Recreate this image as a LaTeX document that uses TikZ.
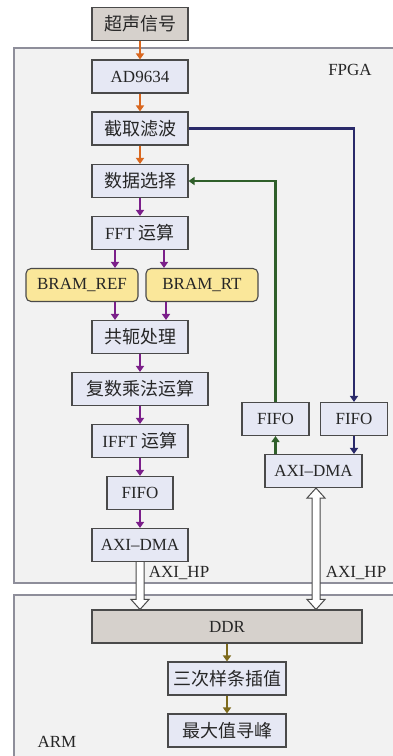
\documentclass[tikz,border=0pt]{standalone}
\usepackage{fontspec}
\setmainfont{Liberation Serif}
\newfontfamily\cjk{Noto Sans CJK SC}
\usetikzlibrary{arrows.meta,calc}
\definecolor{boxc}{HTML}{E6E8F4}
\definecolor{bordc}{HTML}{4A4A4A}
\definecolor{greyc}{HTML}{D6D1CC}
\definecolor{yelc}{HTML}{FAE79A}
\definecolor{framec}{HTML}{F2F2F2}
\definecolor{frameb}{HTML}{8E8E9A}
\definecolor{orac}{HTML}{D9671F}
\definecolor{purc}{HTML}{7B1F8A}
\definecolor{navc}{HTML}{2A2A6A}
\definecolor{grnc}{HTML}{2F5F2A}
\definecolor{olvc}{HTML}{7D6A1C}
\newcommand{\zh}[1]{{\cjk\fontsize{18}{20}\selectfont #1}}
\tikzset{
  box/.style={draw=bordc, fill=boxc, line width=1.1pt, minimum height=33pt, minimum width=96pt, inner sep=0pt, text=black!85, font=\fontsize{17}{20}\selectfont},
  graybox/.style={box, fill=greyc},
  ybox/.style={box, fill=yelc, rounded corners=5pt, minimum width=112pt},
  frame/.style={draw=frameb, fill=framec, line width=1.1pt},
  flow/.style={line width=2.2pt, -{Triangle[length=6pt,width=8pt]}},
  oarr/.style={flow, draw=orac},
  parr/.style={flow, draw=purc},
  narr/.style={flow, draw=navc},
  garr/.style={flow, draw=grnc},
  yarr/.style={flow, draw=olvc},
  open/.style={draw=bordc, fill=white, line width=1pt, line join=miter},
  lbl/.style={inner sep=0pt, text=black!85, font=\fontsize{17}{20}\selectfont}
}
\begin{document}
\begin{tikzpicture}[x=1pt,y=-1pt]
\useasboundingbox (0,0) rectangle (393,756);
\clip (0,0) rectangle (393,756);
\fill[white] (0,0) rectangle (393,756);
\draw[frame] (14,48) rectangle (402,583);
\draw[frame] (14,595) rectangle (402,770);
\node[lbl] (fpga) at (350,70) {FPGA};
\node[lbl] (arm) at (57,742) {ARM};

\node[graybox] (sig) at (140,24) {\zh{超声信号}};
\node[box] (ad) at (140,76.5) {AD9634};
\node[box] (jq) at (140,128.5) {\zh{截取滤波}};
\node[box] (sj) at (140,181) {\zh{数据选择}};
\node[box] (fft) at (140,233) {FFT \zh{运算}};
\node[ybox] (bref) at (82,285) {BRAM\_REF};
\node[ybox] (brt) at (202,285) {BRAM\_RT};
\node[box] (gon) at (140,337) {\zh{共轭处理}};
\node[box, minimum width=136pt] (fu) at (140,389) {\zh{复数乘法运算}};
\node[box] (ifft) at (140,441) {IFFT \zh{运算}};
\node[box, minimum width=66pt] (fifoL) at (140,493) {FIFO};
\node[box] (dmaL) at (140,545) {AXI--DMA};
\node[box, minimum width=67pt] (fifoM) at (275.5,419) {FIFO};
\node[box, minimum width=67pt] (fifoR) at (354,419) {FIFO};
\node[box, minimum width=97pt] (dmaR) at (313.5,471) {AXI--DMA};
\node[graybox, minimum width=270pt] (ddr) at (227,626.5) {DDR};
\node[box, minimum width=118pt] (san) at (227,678.5) {\zh{三次样条插值}};
\node[box, minimum width=118pt] (mx) at (227,730.5) {\zh{最大值寻峰}};

\draw[oarr] (sig) -- (ad);
\draw[oarr] (ad) -- (jq);
\draw[oarr] (jq) -- (sj);
\draw[parr] (sj) -- (fft);
\draw[parr] ($(fft.south)+(-25,0)$) -- ($(bref.north)+(33,0)$);
\draw[parr] ($(fft.south)+(24,0)$) -- ($(brt.north)+(-38,0)$);
\draw[parr] ($(bref.south)+(33,0)$) -- ($(gon.north)+(-25,0)$);
\draw[parr] ($(brt.south)+(-36,0)$) -- ($(gon.north)+(26,0)$);
\draw[parr] (gon) -- (fu);
\draw[parr] (fu) -- (ifft);
\draw[parr] (ifft) -- (fifoL);
\draw[parr] (fifoL) -- (dmaL);
\draw[narr] (jq.east) -| (fifoR.north);
\draw[narr] (fifoR.south) -- (fifoR.south |- dmaR.north);
\draw[garr] (fifoM.south |- dmaR.north) -- (fifoM.south);
\draw[garr] (fifoM.north) |- (sj.east);
\draw[yarr] (ddr) -- (san);
\draw[yarr] (san) -- (mx);

% open arrows
\coordinate (la) at (dmaL.south);
\coordinate (lb) at (dmaL.south |- ddr.north);
\draw[open] ($(la)+(-4,0)$) -- ($(lb)+(-4,-10)$) -- ($(lb)+(-9,-10)$) -- (lb) -- ($(lb)+(9,-10)$) -- ($(lb)+(4,-10)$) -- ($(la)+(4,0)$);
\coordinate (ra) at ($(dmaR.south)+(2.5,0)$);
\coordinate (rb) at (ra |- ddr.north);
\draw[open] (ra) -- ($(ra)+(9,10)$) -- ($(ra)+(4,10)$) -- ($(rb)+(4,-10)$) -- ($(rb)+(9,-10)$) -- (rb) -- ($(rb)+(-9,-10)$) -- ($(rb)+(-4,-10)$) -- ($(ra)+(-4,10)$) -- ($(ra)+(-9,10)$) -- cycle;
\node[lbl] (hpL) at (179,573) {AXI\_HP};
\node[lbl] (hpR) at (356,573) {AXI\_HP};
\end{tikzpicture}
\end{document}
